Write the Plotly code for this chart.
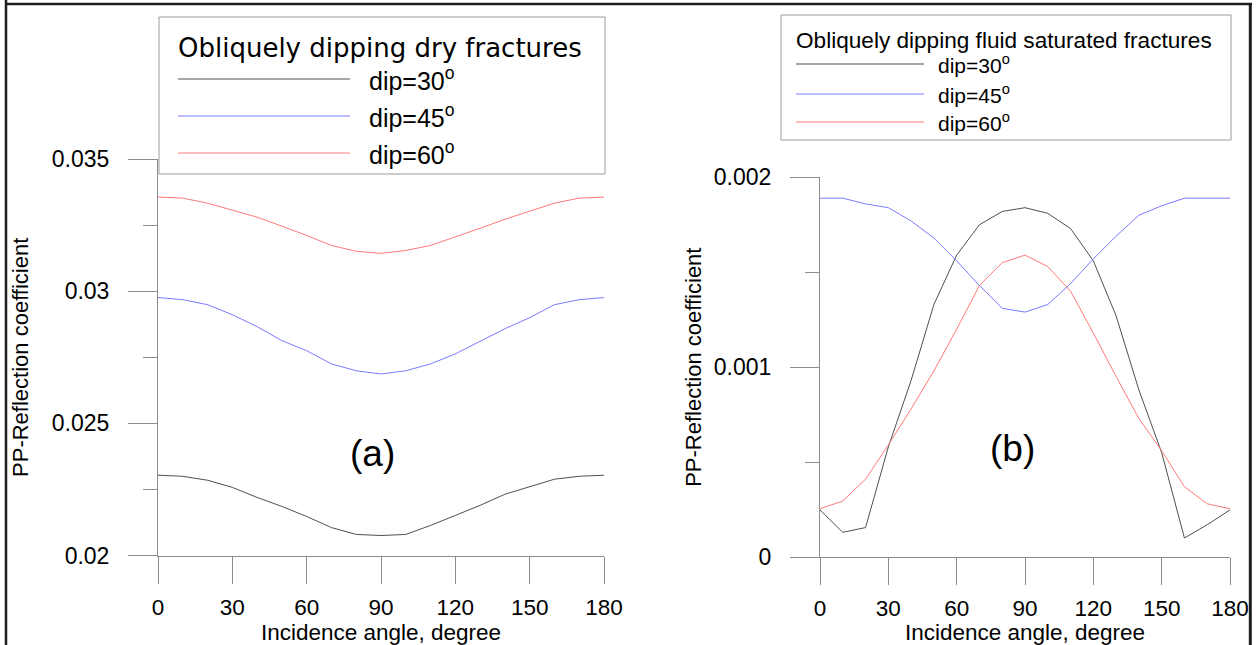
import plotly.graph_objects as go

# ---------------- data ----------------
angles = [0, 10, 20, 30, 40, 50, 60, 70, 80, 90, 100, 110, 120, 130, 140, 150, 160, 170, 180]

dry_30 = [0.02304, 0.02300, 0.02285, 0.02258, 0.02220, 0.02186, 0.02148, 0.02106, 0.02080, 0.02076,
          0.02080, 0.02114, 0.02152, 0.02190, 0.02232, 0.02262, 0.02289, 0.02300, 0.02304]
dry_45 = [0.02976, 0.02968, 0.02949, 0.02911, 0.02866, 0.02813, 0.02775, 0.02725, 0.02699, 0.02687,
          0.02699, 0.02725, 0.02763, 0.02809, 0.02858, 0.02900, 0.02949, 0.02968, 0.02976]
dry_60 = [0.03356, 0.03352, 0.03333, 0.03306, 0.03280, 0.03246, 0.03211, 0.03173, 0.03151, 0.03143,
          0.03154, 0.03173, 0.03204, 0.03238, 0.03272, 0.03303, 0.03333, 0.03352, 0.03356]

sat_30 = [0.000248, 0.000130, 0.000155, 0.000580, 0.000930, 0.001330, 0.001590, 0.001750, 0.001820, 0.001840,
          0.001810, 0.001730, 0.001560, 0.001270, 0.000880, 0.000550, 0.000100, 0.000170, 0.000248]
sat_45 = [0.001890, 0.001890, 0.001860, 0.001840, 0.001770, 0.001680, 0.001560, 0.001430, 0.001310, 0.001290,
          0.001330, 0.001440, 0.001570, 0.001690, 0.001800, 0.001850, 0.001890, 0.001890, 0.001890]
sat_60 = [0.000254, 0.000295, 0.000410, 0.000590, 0.000780, 0.000980, 0.001200, 0.001430, 0.001550, 0.001590,
          0.001530, 0.001400, 0.001180, 0.000950, 0.000730, 0.000560, 0.000370, 0.000280, 0.000254]

series_names = ["dip=30<sup>o</sup>", "dip=45<sup>o</sup>", "dip=60<sup>o</sup>"]
series_colors = ["#505050", "#7a7aff", "#ff7a7a"]

x_ticks = [0, 30, 60, 90, 120, 150, 180]
left_yticks = [0.02, 0.025, 0.03, 0.035]
left_yticktext = ["0.02", "0.025", "0.03", "0.035"]
right_yticks = [0, 0.001, 0.002]
right_yticktext = ["0", "0.001", "0.002"]

left_legend_title = "Obliquely dipping dry fractures"
right_legend_title = "Obliquely dipping fluid saturated fractures"
x_title = "Incidence angle, degree"
y_title = "PP-Reflection coefficient"
panel_labels = ["(a)", "(b)"]

# ---------------- layout geometry ----------------
W, H = 1258, 645
ML, MR, MT, MB = 158, 28, 159, 88
PW, PH = W - ML - MR, H - MT - MB


def px(x):
    return (x - ML) / PW


def py(y):
    return (H - MB - y) / PH


FONT = "Liberation Sans, Arial, sans-serif"
AX = "#8c8c8c"

fig = go.Figure()

dry = [dry_30, dry_45, dry_60]
sat = [sat_30, sat_45, sat_60]
for i in range(3):
    fig.add_trace(go.Scatter(x=angles, y=dry[i], mode="lines", name=series_names[i],
                             line=dict(color=series_colors[i], width=1),
                             xaxis="x", yaxis="y", showlegend=False))
for i in range(3):
    fig.add_trace(go.Scatter(x=angles, y=sat[i], mode="lines", name=series_names[i],
                             line=dict(color=series_colors[i], width=1),
                             xaxis="x2", yaxis="y2", showlegend=False))

common_x = dict(range=[0, 180], tickvals=x_ticks, ticks="outside", ticklen=27, tickwidth=1,
                tickcolor=AX, showline=True, linecolor=AX, linewidth=1, showgrid=False,
                zeroline=False, automargin=False,
                tickfont=dict(family=FONT, size=22.5, color="black"),
                ticklabelstandoff=4,
                title=dict(text=x_title, font=dict(family=FONT, size=22.5, color="black"), standoff=0))
common_y = dict(ticks="outside", ticklen=29, tickwidth=1, tickcolor=AX, showline=True,
                linecolor=AX, linewidth=1, showgrid=False, zeroline=False, automargin=False,
                tickfont=dict(family=FONT, size=23, color="black"), ticklabelstandoff=14)

fig.update_layout(
    width=W, height=H,
    margin=dict(l=ML, r=MR, t=MT, b=MB, autoexpand=False),
    paper_bgcolor="white", plot_bgcolor="white",
    showlegend=False,
    xaxis=dict(common_x, domain=[0, px(604)], anchor="y"),
    yaxis=dict(common_y, domain=[py(555.6), 1], anchor="x", range=[0.02, 0.035],
               tickvals=left_yticks, ticktext=left_yticktext,
               minor=dict(dtick=0.0025, tick0=0.02, ticks="outside", ticklen=14, tickcolor=AX),
               title=dict(text=y_title, font=dict(family=FONT, size=22, color="black"), standoff=17)),
    xaxis2=dict(common_x, domain=[px(820), 1], anchor="y2"),
    yaxis2=dict(common_y, domain=[0, py(177.3)], anchor="x2", range=[0, 0.002],
                tickvals=right_yticks, ticktext=right_yticktext,
                minor=dict(dtick=0.0005, tick0=0, ticks="outside", ticklen=14, tickcolor=AX),
                title=dict(text=y_title, font=dict(family=FONT, size=22, color="black"), standoff=6)),
)

shapes = []
annotations = []

# outer frame
FR = "#1e1e1e"
shapes.append(dict(type="line", xref="paper", yref="paper", x0=px(6), x1=px(6), y0=py(0), y1=py(H),
                   line=dict(color=FR, width=2.5)))
shapes.append(dict(type="line", xref="paper", yref="paper", x0=px(5), x1=px(1252), y0=py(4), y1=py(4),
                   line=dict(color=FR, width=2.5)))
shapes.append(dict(type="line", xref="paper", yref="paper", x0=px(1250.3), x1=px(1250.3), y0=py(3), y1=py(H),
                   line=dict(color=FR, width=3)))

# legend boxes (manual)
LB = "#9a9a9a"
shapes.append(dict(type="rect", xref="paper", yref="paper", x0=px(159), x1=px(605), y0=py(17), y1=py(174),
                   line=dict(color=LB, width=1), fillcolor="white", layer="above"))
shapes.append(dict(type="rect", xref="paper", yref="paper", x0=px(781), x1=px(1231), y0=py(15), y1=py(140),
                   line=dict(color=LB, width=1), fillcolor="white", layer="above"))

annotations.append(dict(text=left_legend_title, xref="paper", yref="paper", x=px(176), y=py(48),
                        xanchor="left", yanchor="middle", showarrow=False,
                        font=dict(family="DejaVu Sans, sans-serif", size=26, color="black")))
annotations.append(dict(text=right_legend_title, xref="paper", yref="paper", x=px(794), y=py(40),
                        xanchor="left", yanchor="middle", showarrow=False,
                        font=dict(family=FONT, size=22.6, color="black")))

left_rows = [79, 116, 153]
right_rows = [64, 94, 122]
for i in range(3):
    shapes.append(dict(type="line", xref="paper", yref="paper", x0=px(178), x1=px(350),
                       y0=py(left_rows[i]), y1=py(left_rows[i]),
                       line=dict(color=series_colors[i], width=1), layer="above"))
    annotations.append(dict(text=series_names[i], xref="paper", yref="paper", x=px(367), y=py(left_rows[i]),
                            xanchor="left", yanchor="middle", showarrow=False,
                            font=dict(family=FONT, size=25, color="black")))
    shapes.append(dict(type="line", xref="paper", yref="paper", x0=px(796), x1=px(924),
                       y0=py(right_rows[i]), y1=py(right_rows[i]),
                       line=dict(color=series_colors[i], width=1), layer="above"))
    annotations.append(dict(text=series_names[i], xref="paper", yref="paper", x=px(936), y=py(right_rows[i]),
                            xanchor="left", yanchor="middle", showarrow=False,
                            font=dict(family=FONT, size=21, color="black")))

# panel labels
annotations.append(dict(text=panel_labels[0], xref="x", yref="y", x=86.4, y=0.02388, showarrow=False,
                        font=dict(family=FONT, size=37, color="black")))
annotations.append(dict(text=panel_labels[1], xref="x2", yref="y2", x=84.7, y=0.00057, showarrow=False,
                        font=dict(family=FONT, size=37, color="black")))

fig.update_layout(shapes=shapes, annotations=annotations)

fig.write_html("out.html", config={"displayModeBar": False},
               post_script="document.body.style.margin='0';")
